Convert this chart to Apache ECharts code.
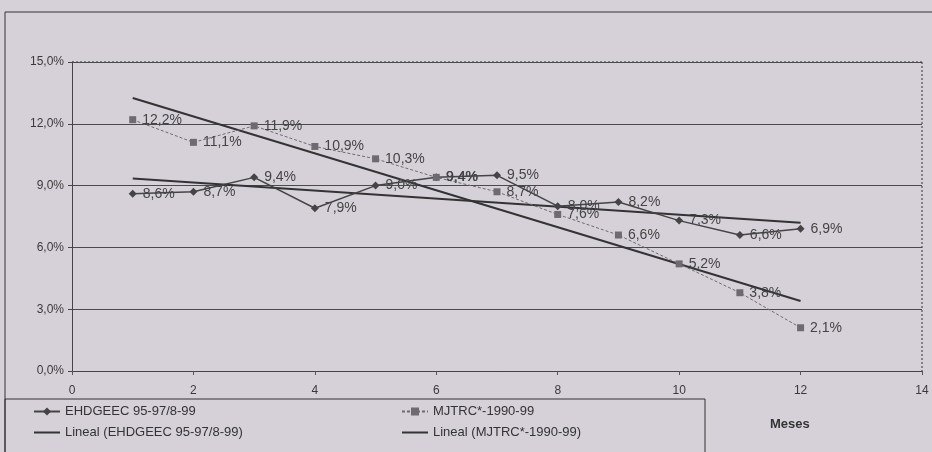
<!DOCTYPE html>
<html>
<head>
<meta charset="utf-8">
<script src="https://cdn.jsdelivr.net/npm/echarts@6/dist/echarts.min.js"></script>
<style>
  html, body { margin: 0; padding: 0; background: #d6d1d9; }
  #chart { width: 932px; height: 452px; }
</style>
</head>
<body>
<div id="chart"></div>
<script>
// meses 1..12
const months = [1, 2, 3, 4, 5, 6, 7, 8, 9, 10, 11, 12];
const ehdgeec = [8.6, 8.7, 9.4, 7.9, 9.0, 9.4, 9.5, 8.0, 8.2, 7.3, 6.6, 6.9];
const mjtrc = [12.2, 11.1, 11.9, 10.9, 10.3, 9.4, 8.7, 7.6, 6.6, 5.2, 3.8, 2.1];
// tendencias lineales (extremos)
const trendX = [1, 12];
const trendEhdgeec = [9.35, 7.2];
const trendMjtrc = [13.25, 3.4];

const nameE = 'EHDGEEC 95-97/8-99';
const nameM = 'MJTRC*-1990-99';
const nameLE = 'Lineal (EHDGEEC 95-97/8-99)';
const nameLM = 'Lineal (MJTRC*-1990-99)';

const fmt = v => v.toFixed(1).replace('.', ',') + '%';
const pairs = (xs, ys) => xs.map((x, i) => [x, ys[i]]);

const labelStyle = {
  show: true,
  position: 'right',
  distance: 6,
  color: '#444',
  fontSize: 14,
  fontFamily: 'Liberation Sans',
  formatter: p => fmt(p.value[1])
};

const legendText = { color: '#333', fontSize: 13, fontFamily: 'Liberation Sans' };

let chart = echarts.init(document.getElementById('chart'));
let option = {
  backgroundColor: '#d6d1d9',
  animation: false,
  textStyle: { fontFamily: 'Liberation Sans' },
  grid: { left: 72, right: 10, top: 62, bottom: 81 },
  xAxis: {
    type: 'value',
    min: 0,
    max: 14,
    interval: 2,
    axisLine: { show: true, lineStyle: { color: '#444', width: 1 } },
    axisTick: { show: true, length: 4, lineStyle: { color: '#555' } },
    axisLabel: { color: '#3a3a3a', fontSize: 12, margin: 14 },
    splitLine: { show: false }
  },
  yAxis: {
    type: 'value',
    min: 0,
    max: 15,
    interval: 3,
    axisLine: { show: true, lineStyle: { color: '#444', width: 1 } },
    axisTick: { show: true, length: 4, lineStyle: { color: '#444' } },
    axisLabel: { color: '#3a3a3a', fontSize: 12, margin: 8, formatter: v => fmt(v) },
    splitLine: { show: true, lineStyle: { color: '#4a4a4a', width: 1 } }
  },
  legend: [
    {
      left: 28, top: 400, orient: 'vertical', itemGap: 8,
      itemWidth: 26, itemHeight: 10,
      textStyle: legendText,
      data: [nameE, { name: nameLE, itemStyle: { opacity: 0 } }]
    },
    {
      left: 396, top: 400, orient: 'vertical', itemGap: 8,
      itemWidth: 26, itemHeight: 10,
      textStyle: legendText,
      data: [nameM, { name: nameLM, itemStyle: { opacity: 0 } }]
    }
  ],
  graphic: [
    { type: 'rect', shape: { x: 5, y: 12, width: 960, height: 480 }, style: { fill: 'none', stroke: '#333', lineWidth: 1 }, silent: true },
    { type: 'line', shape: { x1: 72, y1: 62, x2: 922, y2: 62 }, style: { stroke: '#333', lineWidth: 1, lineDash: [2, 2] }, silent: true },
    { type: 'line', shape: { x1: 922, y1: 62, x2: 922, y2: 371 }, style: { stroke: '#333', lineWidth: 1, lineDash: [2, 2] }, silent: true },
    { type: 'rect', shape: { x: 5, y: 399, width: 700, height: 60 }, style: { fill: 'none', stroke: '#333', lineWidth: 1 }, silent: true },
    { type: 'text', left: 770, top: 418, style: { text: 'Meses', fill: '#333', font: 'bold 13px Liberation Sans' }, silent: true }
  ],
  series: [
    {
      name: nameE,
      type: 'line',
      data: pairs(months, ehdgeec),
      symbol: 'diamond',
      symbolSize: 8,
      itemStyle: { color: '#444' },
      lineStyle: { color: '#444', width: 1.5 },
      label: labelStyle,
      z: 3
    },
    {
      name: nameM,
      type: 'line',
      data: pairs(months, mjtrc),
      symbol: 'rect',
      symbolSize: 7,
      itemStyle: { color: '#6e6a70' },
      lineStyle: { color: '#6e6a70', width: 1, type: [3, 2] },
      label: labelStyle,
      z: 3
    },
    {
      name: nameLE,
      type: 'line',
      data: pairs(trendX, trendEhdgeec),
      symbol: 'none',
      itemStyle: { color: '#333' },
      lineStyle: { color: '#333', width: 2 },
      z: 2
    },
    {
      name: nameLM,
      type: 'line',
      data: pairs(trendX, trendMjtrc),
      symbol: 'none',
      itemStyle: { color: '#333' },
      lineStyle: { color: '#333', width: 2 },
      z: 2
    }
  ]
};
chart.setOption(option);
</script>
</body>
</html>
